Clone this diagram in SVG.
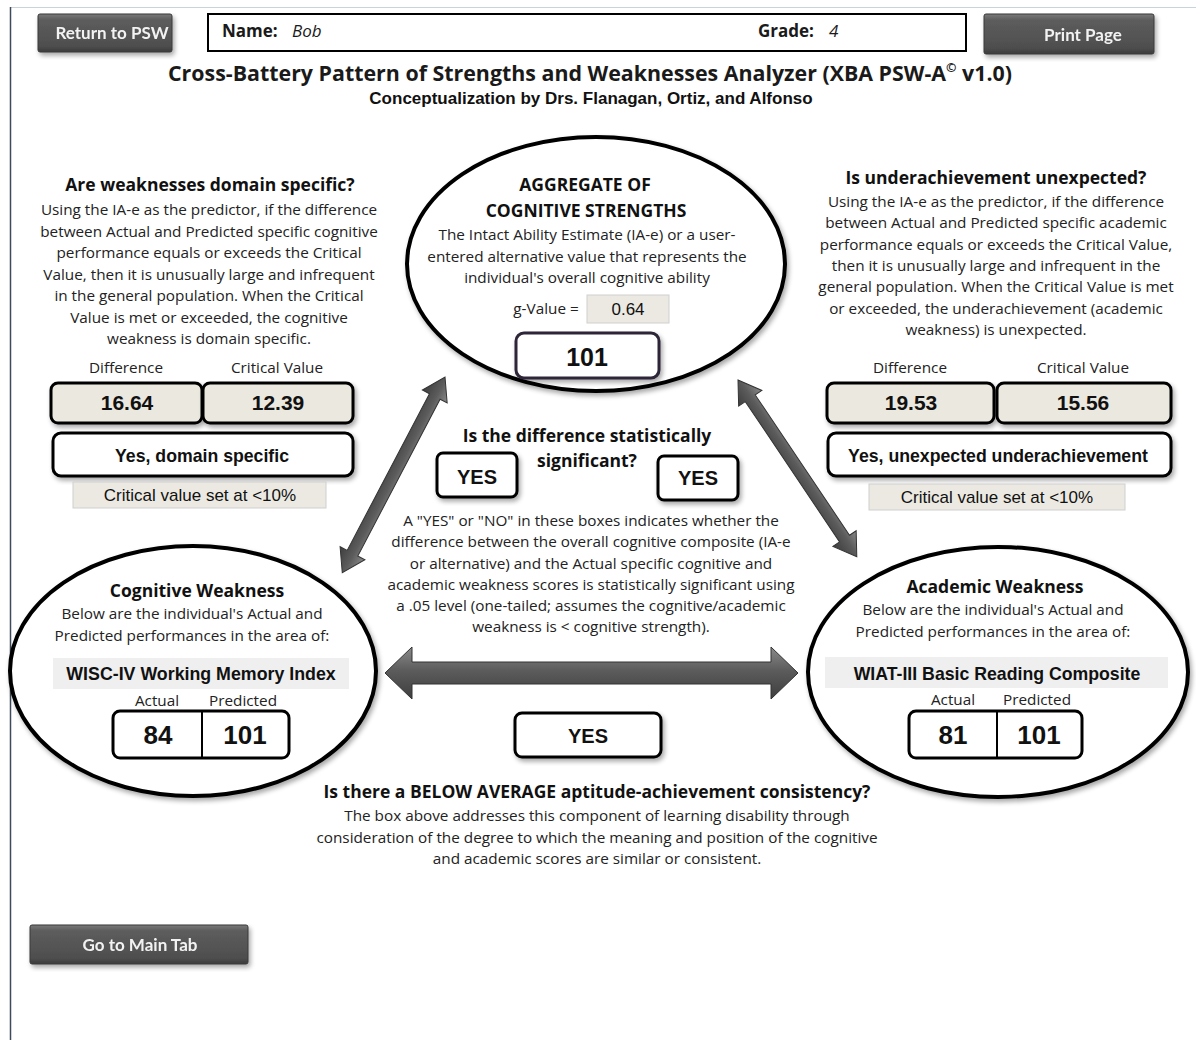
<svg xmlns="http://www.w3.org/2000/svg" width="1196" height="1040" viewBox="0 0 1196 1040">
<defs>
<style>
.cal{font-family:"Open Sans",Lato,"Liberation Sans",sans-serif;fill:#1a1a1a}
.b{font-weight:bold}
.h{font-family:"Open Sans",Lato,"Liberation Sans",sans-serif;font-weight:bold;font-size:17.5px;fill:#111}
.body{font-family:"Open Sans",Lato,"Liberation Sans",sans-serif;font-size:15.3px;fill:#222}
.ar{font-family:"Liberation Sans",Arial,sans-serif;fill:#111}
.num{font-family:"Liberation Sans",Arial,sans-serif;font-weight:bold;font-size:21px;fill:#111}
.btn{stroke:#3a3a3a;stroke-width:1}
.btxt{font-family:Lato,"Liberation Sans",sans-serif;font-weight:bold;font-size:17px;fill:#f2f2f2}
.box{fill:#fff;stroke:#000;stroke-width:3}
.bbox{fill:#ebe8df;stroke:#000;stroke-width:3}
.gr{fill:#ebe9e2;stroke:#cfcfcf;stroke-width:1}
.ell{fill:#fff;stroke:#000;stroke-width:4}
.arrow{fill:url(#ag);stroke:#333;stroke-width:1}
</style>
<filter id="sh" x="-10%" y="-10%" width="125%" height="130%">
<feGaussianBlur in="SourceAlpha" stdDeviation="2.5"/>
<feOffset dx="2" dy="3" result="o"/>
<feComponentTransfer><feFuncA type="linear" slope="0.35"/></feComponentTransfer>
<feMerge><feMergeNode/><feMergeNode in="SourceGraphic"/></feMerge>
</filter>
<linearGradient id="ag" x1="0" y1="0" x2="0" y2="1">
<stop offset="0" stop-color="#8a8a8a"/>
<stop offset="0.45" stop-color="#5c5c5c"/>
<stop offset="1" stop-color="#3e3e3e"/>
</linearGradient>
<linearGradient id="bg" x1="0" y1="0" x2="0" y2="1">
<stop offset="0" stop-color="#7a7a7a"/>
<stop offset="0.15" stop-color="#5d5d5d"/>
<stop offset="0.85" stop-color="#4e4e4e"/>
<stop offset="1" stop-color="#3a3a3a"/>
</linearGradient>
</defs>
<rect width="1196" height="1040" fill="#fff"/>
<line x1="10" y1="7.5" x2="1196" y2="7.5" stroke="#c9d3de" stroke-width="1"/>
<line x1="10.5" y1="7" x2="10.5" y2="1040" stroke="#3d4a5a" stroke-width="1.5"/>

<g id="header">
<g id="btn-return" filter="url(#sh)"><rect class="btn" x="38" y="14" width="134" height="38" rx="2" fill="url(#bg)"/><text class="btxt" x="112" y="39" text-anchor="middle">Return to PSW</text></g>
<g id="namebox"><rect x="208" y="14" width="758" height="37" fill="#fff" stroke="#000" stroke-width="2"/>
<text class="cal b" x="222" y="37" font-size="17">Name:</text><text class="cal" x="292" y="37" font-size="17" font-style="italic">Bob</text>
<text class="cal b" x="758" y="37" font-size="17">Grade:</text><text class="cal" x="829" y="37" font-size="17" font-style="italic">4</text></g>
<g id="btn-print" filter="url(#sh)"><rect class="btn" x="984" y="14" width="170" height="40" rx="2" fill="url(#bg)"/><text class="btxt" x="1083" y="41" text-anchor="middle">Print Page</text></g>
<text class="cal b" x="590" y="81" font-size="20.5" text-anchor="middle" fill="#111" textLength="844" lengthAdjust="spacingAndGlyphs">Cross-Battery Pattern of Strengths and Weaknesses Analyzer (XBA PSW-A<tspan font-size="12" dy="-9">©</tspan><tspan dy="9"> v1.0)</tspan></text>
<text class="ar b" x="591" y="104" font-size="17" font-weight="bold" text-anchor="middle">Conceptualization by Drs. Flanagan, Ortiz, and Alfonso</text>
</g>

<g id="connectors">
<path class="arrow" transform="translate(445,377) rotate(117.7)" d="M0,0 L22,-14 L22,-6 L199,-6 L199,-14 L221,0 L199,14 L199,6 L22,6 L22,14 Z"/>
<path class="arrow" transform="translate(738,380) rotate(56.1)" d="M0,0 L22,-14 L22,-6 L191,-6 L191,-14 L213,0 L191,14 L191,6 L22,6 L22,14 Z"/>
<path class="arrow" transform="translate(385,673)" d="M0,0 L27,-26 L27,-11 L386,-11 L386,-26 L413,0 L386,26 L386,11 L27,11 L27,26 Z"/>
</g>

<g id="domain-specific">
<text class="h" x="210" y="191" text-anchor="middle">Are weaknesses domain specific?</text>
<text class="body" text-anchor="middle"><tspan x="209" y="215">Using the IA-e as the predictor, if the difference</tspan><tspan x="209" y="236.5">between Actual and Predicted specific cognitive</tspan><tspan x="209" y="258">performance equals or exceeds the Critical</tspan><tspan x="209" y="279.5">Value, then it is unusually large and infrequent</tspan><tspan x="209" y="301">in the general population. When the Critical</tspan><tspan x="209" y="322.5">Value is met or exceeded, the cognitive</tspan><tspan x="209" y="344">weakness is domain specific.</tspan></text>
<text class="body" x="126" y="373" text-anchor="middle">Difference</text>
<text class="body" x="277" y="373" text-anchor="middle">Critical Value</text>
<rect class="bbox" x="51" y="383" width="151" height="40" rx="7" filter="url(#sh)"/>
<rect class="bbox" x="203" y="383" width="150" height="40" rx="7" filter="url(#sh)"/>
<text class="num" x="127" y="410" text-anchor="middle">16.64</text>
<text class="num" x="278" y="410" text-anchor="middle">12.39</text>
<rect class="box" x="53" y="433" width="300" height="43" rx="8" filter="url(#sh)"/>
<text class="ar b" x="202" y="462" font-size="17.7" font-weight="bold" text-anchor="middle">Yes, domain specific</text>
<rect class="gr" x="73" y="482" width="253" height="26"/>
<text class="ar" x="200" y="501" font-size="17" text-anchor="middle">Critical value  set at &lt;10%</text>
</g>

<g id="aggregate">
<ellipse class="ell" cx="596" cy="264" rx="189" ry="127" filter="url(#sh)"/>
<text class="h" x="585" y="191" font-size="16" text-anchor="middle">AGGREGATE OF</text>
<text class="h" x="586" y="217" font-size="16" text-anchor="middle">COGNITIVE STRENGTHS</text>
<text class="body" text-anchor="middle"><tspan x="587" y="240">The Intact Ability Estimate  (IA-e) or a user-</tspan><tspan x="587" y="262">entered alternative value that represents the</tspan><tspan x="587" y="283">individual's overall cognitive ability</tspan></text>
<text class="body" x="546" y="314" text-anchor="middle">g-Value =</text>
<rect class="gr" x="587" y="295" width="82" height="28"/>
<text class="ar" x="628" y="315" font-size="17" text-anchor="middle">0.64</text>
<rect x="516" y="333" width="143" height="45" rx="8" fill="#fff" stroke="#2e2638" stroke-width="3" filter="url(#sh)"/>
<text class="ar b" x="587" y="366" font-size="25" font-weight="bold" text-anchor="middle">101</text>
</g>

<g id="unexpected">
<text class="h" x="996" y="184" text-anchor="middle">Is underachievement unexpected?</text>
<text class="body" text-anchor="middle"><tspan x="996" y="207">Using the IA-e as the predictor, if the difference</tspan><tspan x="996" y="228">between Actual and Predicted specific academic</tspan><tspan x="996" y="249.5">performance equals or exceeds the Critical Value,</tspan><tspan x="996" y="271">then it is unusually large and infrequent in the</tspan><tspan x="996" y="292">general population. When the Critical Value is met</tspan><tspan x="996" y="313.5">or exceeded, the underachievement (academic</tspan><tspan x="996" y="335">weakness) is unexpected.</tspan></text>
<text class="body" x="910" y="373" text-anchor="middle">Difference</text>
<text class="body" x="1083" y="373" text-anchor="middle">Critical Value</text>
<rect class="bbox" x="827" y="383" width="167" height="40" rx="7" filter="url(#sh)"/>
<rect class="bbox" x="997" y="383" width="174" height="40" rx="7" filter="url(#sh)"/>
<text class="num" x="911" y="410" text-anchor="middle">19.53</text>
<text class="num" x="1083" y="410" text-anchor="middle">15.56</text>
<rect class="box" x="828" y="433" width="343" height="43" rx="8" filter="url(#sh)"/>
<text class="ar b" x="998" y="462" font-size="17.7" font-weight="bold" text-anchor="middle">Yes, unexpected underachievement</text>
<rect class="gr" x="869" y="484" width="256" height="26"/>
<text class="ar" x="997" y="503" font-size="17" text-anchor="middle">Critical value  set at &lt;10%</text>
</g>

<g id="significance">
<text class="h" x="587" y="442" text-anchor="middle">Is the difference statistically</text>
<text class="h" x="587" y="467" text-anchor="middle">significant?</text>
<rect class="box" x="437" y="453" width="80" height="44" rx="6" filter="url(#sh)"/>
<text class="ar b" x="477" y="484" font-size="20" font-weight="bold" text-anchor="middle">YES</text>
<rect class="box" x="658" y="456" width="80" height="44" rx="6" filter="url(#sh)"/>
<text class="ar b" x="698" y="485" font-size="20" font-weight="bold" text-anchor="middle">YES</text>
<text class="body" text-anchor="middle"><tspan x="591" y="526">A "YES"  or "NO" in these boxes indicates whether the</tspan><tspan x="591" y="547">difference between the overall cognitive  composite (IA-e</tspan><tspan x="591" y="568.5">or alternative) and the Actual specific cognitive and</tspan><tspan x="591" y="590">academic weakness scores is statistically  significant  using</tspan><tspan x="591" y="611">a .05 level (one-tailed; assumes the cognitive/academic</tspan><tspan x="591" y="632">weakness is &lt; cognitive strength).</tspan></text>
</g>

<g id="cognitive-weakness">
<ellipse class="ell" cx="193" cy="671" rx="183" ry="125" filter="url(#sh)"/>
<text class="h" x="197" y="597" text-anchor="middle">Cognitive Weakness</text>
<text class="body" text-anchor="middle"><tspan x="192" y="619">Below are the individual's Actual and</tspan><tspan x="192" y="641">Predicted performances in the area of:</tspan></text>
<rect x="53" y="658" width="296" height="31" fill="#efefef"/>
<text class="ar b" x="201" y="680" font-size="17.8" font-weight="bold" text-anchor="middle">WISC-IV Working Memory Index</text>
<text class="body" x="157" y="706" text-anchor="middle">Actual</text>
<text class="body" x="243" y="706" text-anchor="middle">Predicted</text>
<rect class="box" x="113" y="711" width="176" height="47" rx="7"/>
<line x1="202" y1="711" x2="202" y2="758" stroke="#000" stroke-width="2"/>
<text class="ar b" x="158" y="744" font-size="26" font-weight="bold" text-anchor="middle">84</text>
<text class="ar b" x="245" y="744" font-size="26" font-weight="bold" text-anchor="middle">101</text>
</g>

<g id="academic-weakness">
<ellipse class="ell" cx="998" cy="672" rx="190" ry="125" filter="url(#sh)"/>
<text class="h" x="995" y="593" text-anchor="middle">Academic Weakness</text>
<text class="body" text-anchor="middle"><tspan x="993" y="615">Below are the individual's Actual and</tspan><tspan x="993" y="637">Predicted performances in the area of:</tspan></text>
<rect x="825" y="657" width="343" height="31" fill="#efefef"/>
<text class="ar b" x="997" y="680" font-size="17.7" font-weight="bold" text-anchor="middle">WIAT-III Basic Reading Composite</text>
<text class="body" x="953" y="705" text-anchor="middle">Actual</text>
<text class="body" x="1037" y="705" text-anchor="middle">Predicted</text>
<rect class="box" x="909" y="711" width="173" height="47" rx="7"/>
<line x1="997" y1="711" x2="997" y2="758" stroke="#000" stroke-width="2"/>
<text class="ar b" x="953" y="744" font-size="26" font-weight="bold" text-anchor="middle">81</text>
<text class="ar b" x="1039" y="744" font-size="26" font-weight="bold" text-anchor="middle">101</text>
</g>

<g id="consistency">
<rect class="box" x="515" y="713" width="146" height="44" rx="7" filter="url(#sh)"/>
<text class="ar b" x="588" y="743" font-size="20" font-weight="bold" text-anchor="middle">YES</text>
<text class="h" x="597" y="798" text-anchor="middle">Is there a BELOW AVERAGE aptitude-achievement consistency?</text>
<text class="body" text-anchor="middle"><tspan x="597" y="821">The box above addresses this component of learning disability  through</tspan><tspan x="597" y="843">consideration of the degree to which the meaning and position of the cognitive</tspan><tspan x="597" y="864">and academic  scores are similar or consistent.</tspan></text>
</g>

<g id="btn-main" filter="url(#sh)"><rect class="btn" x="30" y="925" width="218" height="39" rx="2" fill="url(#bg)"/><text class="btxt" x="140" y="951" font-size="17.5" text-anchor="middle">Go to Main Tab</text></g>
</svg>
